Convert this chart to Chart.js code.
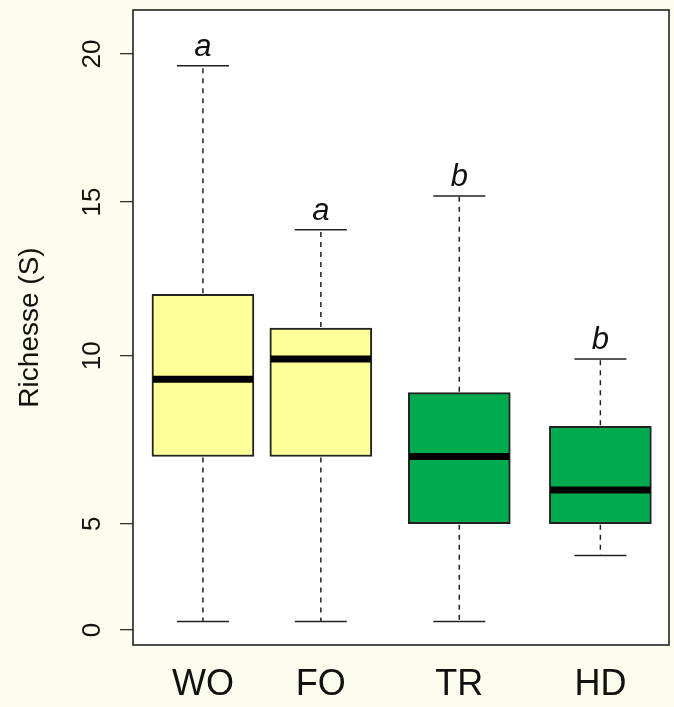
<!DOCTYPE html>
<html>
<head>
<meta charset="utf-8">
<script src="https://cdn.jsdelivr.net/npm/chart.js@4/dist/chart.umd.min.js"></script>
<style>
  body { margin: 0; background: #fdfdee; }
  #wrap { width: 674px; height: 707px; }
</style>
</head>
<body>
<div id="wrap"><canvas id="chart" width="674" height="707"></canvas></div>
<script>
// data
const categories = ["WO", "FO", "TR", "HD"];
const whiskerMin = [0.4, 0.4, 0.4, 3.5];
const q1 = [7, 7, 5, 5];
const medians = [9.3, 9.9, 7, 6];
const q3 = [12, 10.9, 8.9, 7.9];
const whiskerMax = [19.6, 14.1, 15.2, 9.9];
const letters = ["a", "a", "b", "b"];
const yTicks = [0, 5, 10, 15, 20];

// layout
const boxAt = [1, 1.89, 2.935, 4];
const boxColors = ["#ffff99", "#ffff99", "#00ab4f", "#00ab4f"];
const BOX_W = 102;
const CAP_W = 52;
const FONT = "'Liberation Sans', Arial, sans-serif";

// the y axis of the original is not evenly spaced, so it gets piecewise steps
const breakVals = [-0.71, 0, 5, 10, 15, 20, 21.49];
const breakFracs = [0, 0.0236, 0.191, 0.4556, 0.6976, 0.9307, 1];

function interp(x, xs, ys) {
  let i = 1;
  while (i < xs.length - 1 && x > xs[i]) i++;
  const t = (x - xs[i - 1]) / (xs[i] - xs[i - 1]);
  return ys[i - 1] + t * (ys[i] - ys[i - 1]);
}

class BreakScale extends Chart.LinearScale {
  static id = 'breaks';
  static defaults = Chart.LinearScale.defaults;
  getPixelForValue(v) {
    return this.getPixelForDecimal(interp(v, breakVals, breakFracs));
  }
  getValueForPixel(p) {
    return interp(this.getDecimalForPixel(p), breakFracs, breakVals);
  }
}
Chart.register(BreakScale);

const boxPlugin = {
  id: 'boxes',
  beforeDraw(chart) {
    const a = chart.chartArea, ctx = chart.ctx;
    ctx.save();
    ctx.fillStyle = '#ffffff';
    ctx.fillRect(a.left, a.top, a.right - a.left, a.bottom - a.top);
    ctx.restore();
  },
  afterDatasetsDraw(chart) {
    const ctx = chart.ctx;
    const xs = chart.scales.x, ys = chart.scales.y;
    ctx.save();
    for (let i = 0; i < categories.length; i++) {
      const x = xs.getPixelForValue(boxAt[i]);
      const yMin = ys.getPixelForValue(whiskerMin[i]);
      const yQ1 = ys.getPixelForValue(q1[i]);
      const yMed = ys.getPixelForValue(medians[i]);
      const yQ3 = ys.getPixelForValue(q3[i]);
      const yMax = ys.getPixelForValue(whiskerMax[i]);

      // whiskers
      ctx.strokeStyle = '#222';
      ctx.lineWidth = 1.5;
      ctx.setLineDash([5, 5]);
      ctx.beginPath();
      ctx.moveTo(x, yQ3 - 1); ctx.lineTo(x, yMax);
      ctx.moveTo(x, yQ1 + 1); ctx.lineTo(x, yMin);
      ctx.stroke();
      ctx.setLineDash([]);
      ctx.beginPath();
      ctx.moveTo(x - CAP_W / 2, yMax); ctx.lineTo(x + CAP_W / 2, yMax);
      ctx.moveTo(x - CAP_W / 2, yMin); ctx.lineTo(x + CAP_W / 2, yMin);
      ctx.stroke();

      // median
      ctx.strokeStyle = '#000';
      ctx.lineWidth = 7;
      ctx.beginPath();
      ctx.moveTo(x - BOX_W / 2 + 1, yMed); ctx.lineTo(x + BOX_W / 2 - 1, yMed);
      ctx.stroke();

      // group letter
      ctx.fillStyle = '#111';
      ctx.font = 'italic 31px ' + FONT;
      ctx.textAlign = 'center';
      ctx.textBaseline = 'alphabetic';
      ctx.fillText(letters[i], x, yMax - 10);
    }
    ctx.restore();
  },
  afterDraw(chart) {
    const a = chart.chartArea, ctx = chart.ctx;
    ctx.save();
    ctx.strokeStyle = '#222';
    ctx.lineWidth = 1.6;
    ctx.strokeRect(a.left, a.top, a.right - a.left, a.bottom - a.top);
    ctx.restore();
  }
};

new Chart(document.getElementById('chart'), {
  type: 'bar',
  data: {
    datasets: [{
      data: boxAt.map((x, i) => ({ x: x, y: [q1[i], q3[i]] })),
      backgroundColor: boxColors,
      borderColor: '#222',
      borderWidth: 2,
      borderSkipped: false,
      barThickness: BOX_W,
      grouped: false
    }]
  },
  options: {
    responsive: false,
    animation: false,
    layout: { padding: { top: 10, right: 5, left: 0, bottom: 0 } },
    plugins: { legend: { display: false }, tooltip: { enabled: false } },
    scales: {
      x: {
        type: 'linear',
        min: 0.472,
        max: 4.518,
        offset: false,
        afterBuildTicks: s => { s.ticks = boxAt.map(v => ({ value: v })); },
        afterFit: s => { s.height = 62; s.paddingLeft = 0; s.paddingRight = 0; },
        grid: { display: false, offset: false },
        border: { display: false },
        ticks: {
          callback: (v, i) => categories[i],
          autoSkip: false,
          maxRotation: 0,
          padding: 10,
          color: '#111',
          font: { family: FONT, size: 36 }
        }
      },
      y: {
        type: 'breaks',
        min: -0.71,
        max: 21.49,
        afterBuildTicks: s => { s.ticks = yTicks.map(v => ({ value: v })); },
        afterFit: s => { s.width = 133; s.paddingTop = 0; s.paddingBottom = 0; },
        grid: { drawOnChartArea: false, drawTicks: true, tickLength: 13, color: '#333', lineWidth: 1.3 },
        border: { display: false },
        title: {
          display: true,
          text: 'Richesse (S)',
          color: '#111',
          font: { family: FONT, size: 28 },
          padding: { top: 13, bottom: 0 }
        },
        ticks: {
          minRotation: 90,
          maxRotation: 90,
          crossAlign: 'center',
          padding: 13,
          color: '#111',
          font: { family: FONT, size: 26 }
        }
      }
    }
  },
  plugins: [boxPlugin]
});
</script>
</body>
</html>
